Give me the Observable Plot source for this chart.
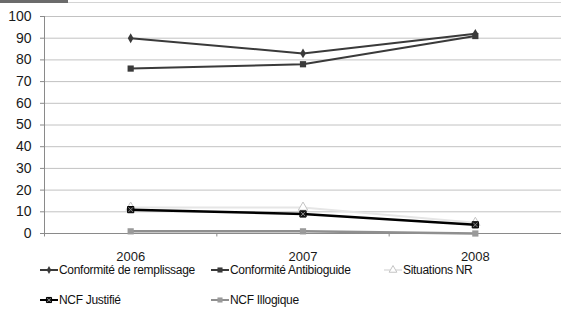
<!DOCTYPE html>
<html>
<head>
<meta charset="utf-8">
<script src="https://cdn.jsdelivr.net/npm/d3@7"></script>
<script src="https://cdn.jsdelivr.net/npm/@observablehq/plot@0.6"></script>
<style>
  html, body { margin: 0; padding: 0; background: #fff; }
  body { width: 561px; height: 314px; position: relative; overflow: hidden; font-family: "Liberation Sans", Arial, sans-serif; }
  #topbar-dark { position: absolute; left: 0; top: 0; width: 68px; height: 3px; background: #6b6b6b; }
  #topbar-light { position: absolute; left: 68px; top: 2px; width: 493px; height: 1px; background: #d4d4d4; }
  #chart { position: absolute; left: 0; top: 0; }
  #chart svg text { fill: #1a1a1a; }
  .legend-item { position: absolute; height: 12px; display: flex; align-items: center; font-size: 12px; line-height: 12px; color: #111; white-space: nowrap; letter-spacing: -0.3px; }
  .legend-item svg { display: block; margin-right: 1px; }
</style>
</head>
<body>
<div id="chart"></div>
<div id="topbar-dark"></div>
<div id="topbar-light"></div>
<div id="legend"></div>
<script>
// ---- data ----
const years = ["2006", "2007", "2008"];
const seriesNames = ["Conformité de remplissage", "Conformité Antibioguide", "Situations NR", "NCF Justifié", "NCF Illogique"];
const remplissage = [90, 83, 92];
const antibioguide = [76, 78, 91];
const situationsNR = [12, 12, 5];
const ncfJustifie = [11, 9, 4];
const ncfIllogique = [1, 1, 0];
const yTicks = [0, 10, 20, 30, 40, 50, 60, 70, 80, 90, 100];

const seriesValues = [remplissage, antibioguide, situationsNR, ncfJustifie, ncfIllogique];

// styles per series
const styles = [
  {stroke: "#3a3a3a", width: 2, symbol: "diamond", fill: "#3a3a3a", mstroke: "none", r: 3},
  {stroke: "#3a3a3a", width: 2, symbol: "square", fill: "#3a3a3a", mstroke: "none", r: 3.5},
  {stroke: "#e6e6e6", width: 2, symbol: "triangle", fill: "#fff", mstroke: "#c4c4c4", r: 3.5},
  {stroke: "#000000", width: 2.5, symbol: "square", fill: "#1a1a1a", mstroke: "#000", r: 3.5, cross: true},
  {stroke: "#8f8f8f", width: 2.5, symbol: "square", fill: "#9a9a9a", mstroke: "none", r: 3.5}
];

// rows: category index positioned at band centres of a [0, n] linear scale
const rowsFor = (vals) => vals.map((v, i) => ({idx: i + 0.5, year: years[i], value: v}));
const bounds = d3.range(years.length + 1);

const marks = [
  Plot.ruleY(yTicks, {stroke: "#c2c2c2", strokeWidth: 1}),
  Plot.ruleY([0], {stroke: "#8a8a8a", strokeWidth: 1}),
  Plot.ruleX([0], {stroke: "#8a8a8a", strokeWidth: 1}),
  Plot.ruleX(bounds, {y1: 0, y2: -1.6, stroke: "#8a8a8a", strokeWidth: 1}),
  Plot.text(years, {x: (d, i) => i + 0.5, y: 0, dy: 23, text: d => d, fontSize: 13, fill: "#1a1a1a"})
];

seriesValues.forEach((vals, k) => {
  const s = styles[k];
  const rows = rowsFor(vals);
  marks.push(Plot.line(rows, {x: "idx", y: "value", stroke: s.stroke, strokeWidth: s.width}));
  marks.push(Plot.dot(rows, {x: "idx", y: "value", symbol: s.symbol, r: s.r, fill: s.fill, stroke: s.mstroke, strokeWidth: 1}));
  if (s.cross) {
    marks.push(Plot.dot(rows, {x: "idx", y: "value", symbol: "times", r: 2.2, stroke: "#9a9a9a", strokeWidth: 0.8}));
  }
});

const chart = Plot.plot({
  width: 561,
  height: 270,
  marginTop: 16,
  marginBottom: 37,
  marginLeft: 44,
  marginRight: 0,
  style: {fontFamily: "'Liberation Sans', Arial, sans-serif", fontSize: "14px", color: "#8a8a8a", background: "transparent"},
  x: {type: "linear", domain: [0, years.length], axis: null},
  y: {domain: [0, 100], ticks: yTicks, tickSize: 4, tickPadding: 9, label: null},
  marks
});
document.getElementById("chart").appendChild(chart);

// ---- legend (HTML below the plot) ----
const legendPos = [
  {left: 40, top: 264}, {left: 211, top: 264}, {left: 384, top: 264},
  {left: 40, top: 294}, {left: 211, top: 294}
];
const symbolMap = {diamond: d3.symbolDiamond, square: d3.symbolSquare, triangle: d3.symbolTriangle};
const legend = document.getElementById("legend");
seriesNames.forEach((name, k) => {
  const s = styles[k];
  const item = document.createElement("div");
  item.className = "legend-item";
  item.style.left = legendPos[k].left + "px";
  item.style.top = legendPos[k].top + "px";
  const sw = d3.create("svg").attr("width", 18).attr("height", 10);
  sw.append("line").attr("x1", 0).attr("x2", 18).attr("y1", 5).attr("y2", 5)
    .attr("stroke", s.stroke).attr("stroke-width", Math.min(s.width, 2));
  const size = s.symbol === "diamond" ? 18 : 26;
  sw.append("path").attr("transform", "translate(9,5)")
    .attr("d", d3.symbol(symbolMap[s.symbol], size)())
    .attr("fill", s.fill).attr("stroke", s.mstroke).attr("stroke-width", 1);
  if (s.cross) {
    sw.append("path").attr("transform", "translate(9,5)")
      .attr("d", d3.symbol(d3.symbolTimes, 10)())
      .attr("fill", "none").attr("stroke", "#9a9a9a").attr("stroke-width", 0.8);
  }
  item.appendChild(sw.node());
  const span = document.createElement("span");
  span.textContent = name;
  item.appendChild(span);
  legend.appendChild(item);
});
</script>
</body>
</html>
